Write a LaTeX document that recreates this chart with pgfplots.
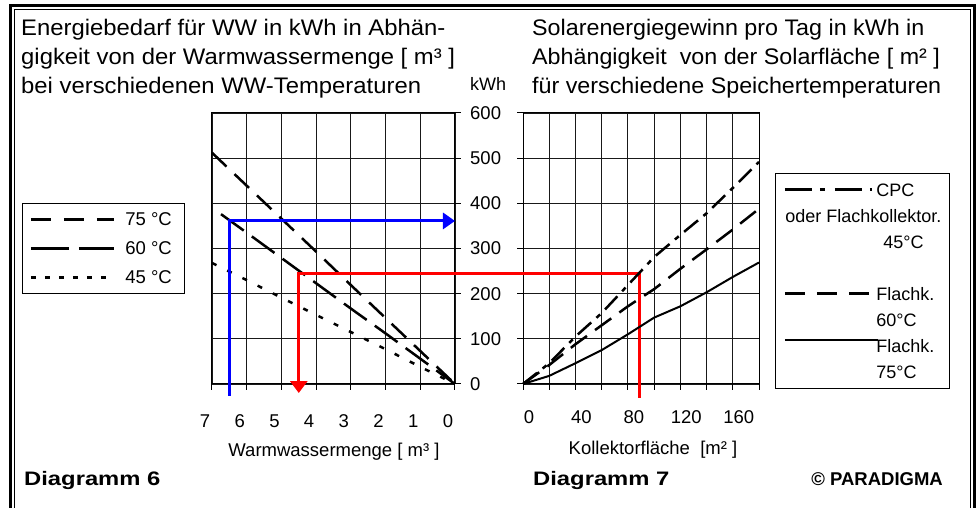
\documentclass[border=0pt]{standalone}
\usepackage{fontspec}
\setmainfont{Liberation Sans}
\newfontfamily\titlefont[FakeStretch=1.06]{Liberation Sans}
\newfontfamily\titlefontr[FakeStretch=1.035]{Liberation Sans}
\newfontfamily\diagfont[FakeStretch=1.22]{Liberation Sans Bold}
\usepackage{pgfplots}
\pgfplotsset{compat=1.18}
\usetikzlibrary{arrows.meta}

\pgfplotsset{
  myaxis/.style={
    scale only axis, height=271pt,
    ymin=0, ymax=600, ytick={0,100,...,600},
    grid=major, grid style={black!90, line width=0.8pt},
    axis line style={line width=1pt},
    tick style={black, line width=1pt},
    tick align=outside, major tick length=6pt,
    clip=false,
    tick label style={font=\fontsize{18.5}{18}\selectfont},
    /pgf/number format/assume math mode=true,
    legend cell align=left,
  }
}

\begin{document}
\begin{tikzpicture}
\useasboundingbox (0pt,0pt) rectangle (979pt,508pt);
% double frame
\draw[line width=3pt] (10.5pt,-20pt) -- (10.5pt,502.5pt) -- (974.5pt,502.5pt) -- (974.5pt,-20pt);
\draw[line width=1pt] (14.5pt,-20pt) -- (14.5pt,498.5pt) -- (970pt,498.5pt) -- (970pt,-20pt);

% ---------- left panel ----------
\begin{axis}[myaxis, at={(212pt,124pt)}, anchor=south west, width=243pt,
  xmin=0, xmax=7, x dir=reverse, xtick={0,...,7},
  xtick pos=left, ytick pos=right, yticklabel pos=right,
  yticklabel style={anchor=west, inner sep=0pt, xshift=9pt},
  xticklabel style={anchor=base, yshift=-38pt, xshift=-7pt},
  legend style={at={(-0.782,0.668)}, anchor=north west, draw=black, line width=0.8pt,
    inner xsep=7pt, inner ysep=1.5pt, column sep=10pt, row sep=0pt,
    nodes={inner sep=0pt, text height=21pt, text depth=8pt},
    font=\fontsize{18.5}{18}\selectfont},
  legend image code/.code={\draw[#1] (0pt,0pt) -- (83pt,0pt);},
]
% 75 C
\addplot[forget plot, black, line width=2.5pt, dash pattern=on 20pt off 11pt]
  coordinates {(7,512)(6,439)(5,366)(4,293)(3,219)(2,146)(1,73)(0,0)};
% 60 C
\addplot[forget plot, black, line width=2.5pt, dash pattern=on 28pt off 10pt]
  coordinates {(6.74,376)(6,335)(5,279)(4,223)(3,167)(2,112)(1,56)(0,0)};
% 45 C
\addplot[forget plot, black, line width=2.5pt, dash pattern=on 5pt off 12pt]
  coordinates {(7,268)(6,230)(5,191)(4,153)(3,115)(2,77)(1,38)(0,0)};
% blue reading arrow
\addplot[forget plot, blue, line width=3pt, line join=miter, -{Triangle[length=12pt,width=16pt]}]
  coordinates {(6.51,-26)(6.51,361)(0,361)};
% red reading arrow
\addplot[forget plot, red, line width=3pt, line join=miter, -{Triangle[length=12pt,width=17pt]}]
  coordinates {(-2.05,245)(4.5,245)(4.5,-20)};
% legend
\addlegendimage{black, line width=3pt, dash pattern=on 20pt off 13pt}
\addlegendentry{\makebox[52pt][l]{75 °C}}
\addlegendimage{black, line width=3pt, dash pattern=on 38pt off 10pt}
\addlegendentry{\makebox[52pt][l]{60 °C}}
\addlegendimage{black, line width=3pt, dash pattern=on 5pt off 9pt}
\addlegendentry{\makebox[52pt][l]{45 °C}}
\end{axis}

% ---------- right panel ----------
\begin{axis}[myaxis, at={(523pt,124pt)}, anchor=south west, width=236pt,
  xmin=0, xmax=180, xtick={0,20,...,180},
  xticklabels={0,,40,,80,,120,,160,},
  xtick pos=left, ytick pos=left, yticklabels={},
  xticklabel style={anchor=base, yshift=-34pt, xshift=6pt},
  legend style={at={(1.0678,0.7786)}, anchor=north west, draw=black, line width=0.8pt,
    inner xsep=8pt, inner ysep=3.5pt, column sep=0pt, row sep=0pt,
    nodes={inner sep=0pt, text height=19.5pt, text depth=6.5pt},
    font=\fontsize{18}{18}\selectfont},
  legend image code/.code={\draw[#1] (0pt,0pt) -- (87pt,0pt); \path (93pt,0pt);},
]
\addplot[forget plot, red, line width=3pt, line join=miter]
  coordinates {(0,245)(89.2,245)(89.2,-31)};
% CPC / Flachkollektor 45 C
\addplot[forget plot, black, line width=2.5pt, dash pattern=on 18pt off 7pt on 5pt off 7pt]
  coordinates {(0,0)(20,46)(40,105)(60,157)(80,219)(100,281)(120,330)(140,378)(160,434)(180,492)};
% Flachk. 60 C
\addplot[forget plot, black, line width=2.5pt, dash pattern=on 20pt off 10pt]
  coordinates {(0,0)(20,42)(40,88)(60,130)(80,172)(100,210)(120,255)(140,298)(160,342)(180,388)};
% Flachk. 75 C
\addplot[forget plot, black, line width=2pt]
  coordinates {(0,0)(20,18)(40,46)(60,75)(80,110)(100,147)(120,172)(140,203)(160,237)(180,269)};
% legend
\addlegendimage{black, line width=3pt, dash pattern=on 27pt off 8pt on 5pt off 10pt}
\addlegendentry{\makebox[62pt][l]{\hspace*{-3pt}CPC}}
\addlegendimage{empty legend}
\addlegendentry{\makebox[62pt][l]{\hspace*{-94pt}oder Flachkollektor.}}
\addlegendimage{empty legend}
\addlegendentry{\makebox[62pt][l]{\hspace*{4pt}45°C}}
\addlegendimage{empty legend}
\addlegendentry{\makebox[62pt][l]{}}
\addlegendimage{black, line width=3pt, dash pattern=on 20pt off 12pt}
\addlegendentry{\makebox[62pt][l]{\hspace*{-3pt}Flachk.}}
\addlegendimage{empty legend}
\addlegendentry{\makebox[62pt][l]{\hspace*{-3pt}60°C}}
\addlegendimage{legend image code/.code={\draw[black, line width=2pt] (0pt,6pt) -- (93pt,6pt);}}
\addlegendentry{\makebox[62pt][l]{\hspace*{-3pt}Flachk.}}
\addlegendimage{empty legend}
\addlegendentry{\makebox[62pt][l]{\hspace*{-3pt}75°C}}
\end{axis}

% ---------- texts ----------
\begin{scope}[every node/.style={inner sep=0pt, font=\titlefont\fontsize{22.5}{28}\selectfont}]
\node[anchor=base west] at (21pt,472pt) {Energiebedarf für WW in kWh in Abhän-};
\node[anchor=base west] at (21pt,443pt) {gigkeit von der Warmwassermenge [ m³ ]};
\node[anchor=base west] at (21pt,414pt) {bei verschiedenen WW-Temperaturen};
\end{scope}
\begin{scope}[every node/.style={inner sep=0pt, font=\titlefontr\fontsize{22.5}{28}\selectfont}]
\node[anchor=base west] at (532pt,472pt) {Solarenergiegewinn pro Tag in kWh in};
\node[anchor=base west] at (532pt,443pt) {Abhängigkeit\ \ von der Solarfläche [ m² ]};
\node[anchor=base west] at (532pt,414pt) {für verschiedene Speichertemperaturen};
\end{scope}
\node[anchor=base west, inner sep=0pt, font=\fontsize{18}{18}\selectfont] at (470pt,417pt) {kWh};
\node[anchor=base, inner sep=0pt, font=\fontsize{18.5}{18}\selectfont] at (334pt,51pt) {Warmwassermenge [ m³ ]};
\node[anchor=base, inner sep=0pt, font=\fontsize{18.5}{18}\selectfont] at (653pt,53pt) {Kollektorfläche\ \ [m² ]};
\node[anchor=base west, inner sep=0pt, font=\diagfont\fontsize{19.5}{24}\selectfont] at (24pt,22pt) {Diagramm 6};
\node[anchor=base west, inner sep=0pt, font=\diagfont\fontsize{19.5}{24}\selectfont] at (533pt,22pt) {Diagramm 7};
\node[anchor=base east, inner sep=0pt, font=\fontsize{18.5}{18}\selectfont\bfseries] at (943pt,22pt) {© PARADIGMA};
\end{tikzpicture}
\end{document}
